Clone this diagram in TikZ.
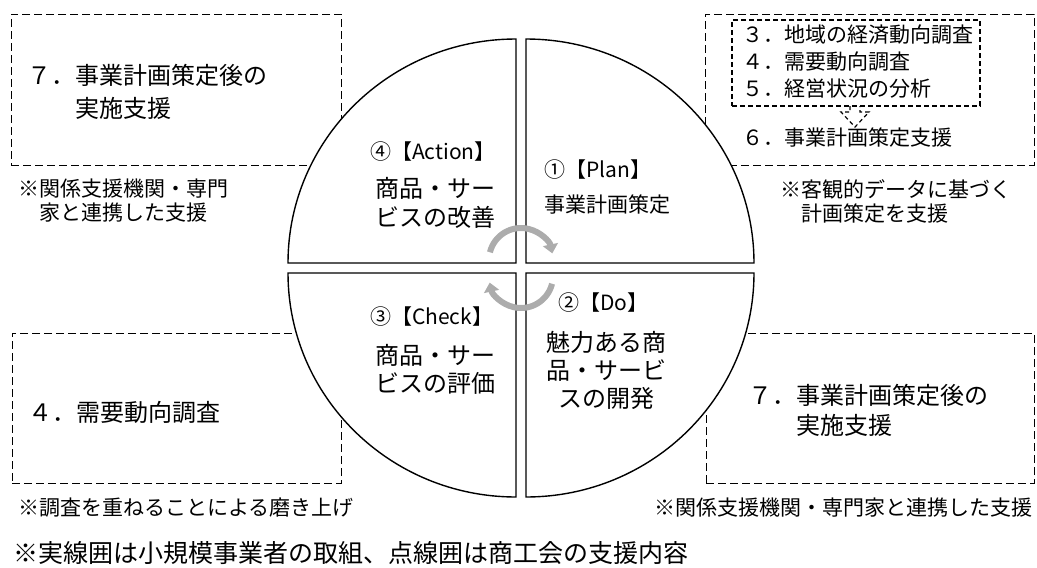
\documentclass[tikz,border=0pt]{standalone}
\usepackage{fontspec}
\setmainfont{Noto Sans CJK JP}
\usetikzlibrary{arrows.meta}

\tikzset{
  quarter/.style={draw, line width=1.4pt, fill=white},
  dashbox/.style={draw, dash pattern=on 8pt off 4pt, line width=0.9pt, inner sep=0pt},
  innerbox/.style={draw, dash pattern=on 5pt off 3pt, line width=1.3pt, inner sep=0pt},
  turn/.style={line width=6pt, draw=gray!65, -{Triangle[length=9pt,width=15pt]}},
  big/.style={font=\fontsize{24}{29}\selectfont, inner sep=0pt},
  mid/.style={font=\fontsize{21}{27}\selectfont, inner sep=0pt},
  note/.style={font=\fontsize{21}{24}\selectfont, inner sep=0pt},
  tag/.style={font=\fontsize{21}{24}\selectfont, inner sep=0pt, anchor=west},
}

\begin{document}
\begin{tikzpicture}[x=1pt,y=-1pt]
\useasboundingbox (0,0) rectangle (1037,568);

% Dashed boxes (support by the chamber)
\node[dashbox, minimum width=330pt, minimum height=151pt] (boxTL) at (176,89.5) {};
\node[dashbox, minimum width=329pt, minimum height=151pt] (boxTR) at (869.5,89.5) {};
\node[innerbox, minimum width=248pt, minimum height=86pt] (boxIn) at (856,63) {};
\node[dashbox, minimum width=329pt, minimum height=150pt] (boxBL) at (176.5,408) {};
\node[dashbox, minimum width=328pt, minimum height=150pt] (boxBR) at (870,408) {};

% small dashed arrow
\draw[dash pattern=on 4pt off 3pt, line width=1.2pt] (850,106) -- (850,112) -- (841,112)
  -- (855,127) -- (869,112) -- (860,112) -- (860,106);

% Quarters of the cycle
\draw[quarter] (516,263) -- (288,263) arc[start angle=180, end angle=270, x radius=228, y radius=224] -- cycle;
\draw[quarter] (526,263) -- (526,39) arc[start angle=270, end angle=360, x radius=228, y radius=224] -- cycle;
\draw[quarter] (526,273) -- (754,273) arc[start angle=0, end angle=90, x radius=228, y radius=224] -- cycle;
\draw[quarter] (516,273) -- (516,497) arc[start angle=90, end angle=180, x radius=228, y radius=224] -- cycle;

% Turning arrows
\draw[turn] (521,260) ++(194:32) arc[start angle=194, end angle=348, radius=32];
\draw[turn] (521,276) ++(14:32) arc[start angle=14, end angle=168, radius=32];

% Quarter labels
\node[tag] (actTag) at (370,152) {④【Action】};
\node[big, align=center] (actText) at (435,202.5) {商品・サー\\ビスの改善};
\node[tag] (planTag) at (544,170) {①【Plan】};
\node[tag] (planText) at (544,205) {事業計画策定};
\node[tag] (doTag) at (558,303) {②【Do】};
\node[big, align=center, font=\fontsize{24}{28}\selectfont] (doText) at (606,370) {魅力ある商\\品・サービ\\スの開発};
\node[tag] (chkTag) at (370,317) {③【Check】};
\node[big, align=center, font=\fontsize{24}{28}\selectfont] (chkText) at (435,369) {商品・サー\\ビスの評価};

% Box texts
\node[big, anchor=west, align=left, font=\fontsize{24}{33}\selectfont] (followTL) at (27,91.5) {７．事業計画策定後の\\\hspace*{2em}実施支援};
\node[mid, anchor=west, align=left] (survey) at (742,62) {３．地域の経済動向調査\\４．需要動向調査\\５．経営状況の分析};
\node[mid, anchor=west] (planSup) at (742,138) {６．事業計画策定支援};
\node[big, anchor=west] (demand) at (28,412) {４．需要動向調査};
\node[big, anchor=west, align=left, font=\fontsize{24}{30}\selectfont] (followBR) at (748,410) {７．事業計画策定後の\\\hspace*{2em}実施支援};

% Notes
\node[note, anchor=west, align=left] (noteTL) at (18,201) {※関係支援機関・専門\\\hspace*{1em}家と連携した支援};
\node[note, anchor=west, align=left] (noteTR) at (780,201) {※客観的データに基づく\\\hspace*{1em}計画策定を支援};
\node[note, anchor=west] (noteBL) at (18,508) {※調査を重ねることによる磨き上げ};
\node[note, anchor=east] (noteBR) at (1033,508) {※関係支援機関・専門家と連携した支援};
\node[anchor=west, inner sep=0pt, font=\fontsize{25}{25}\selectfont] (legend) at (13,553) {※実線囲は小規模事業者の取組、点線囲は商工会の支援内容};
\end{tikzpicture}
\end{document}
